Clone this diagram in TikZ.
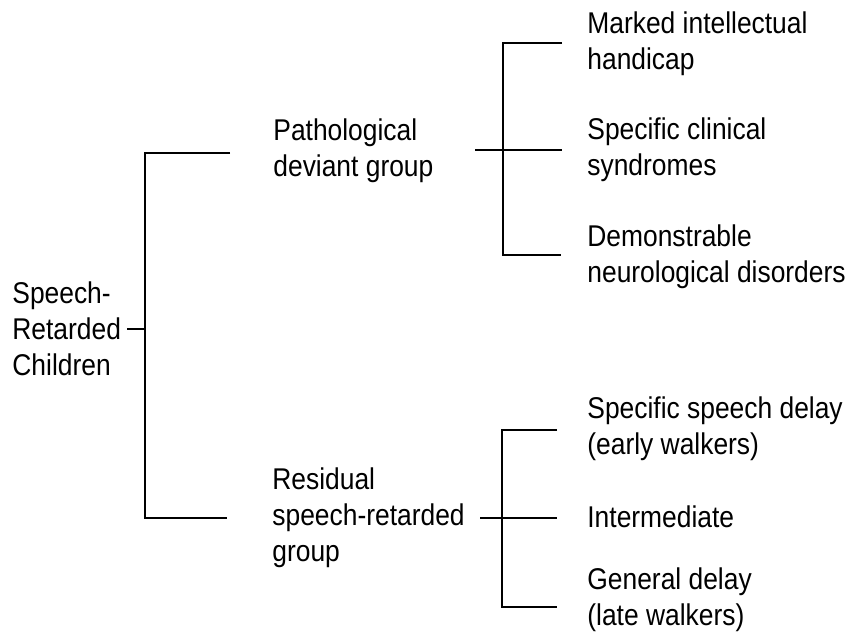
\documentclass[tikz,border=0pt]{standalone}
\usepackage{fontspec}
\setmainfont{Liberation Sans}[FakeStretch=0.88]
\begin{document}
\begin{tikzpicture}[x=0.5pt,y=-0.5pt,
  lbl/.style={anchor=west,inner sep=0pt,align=left,font=\fontsize{15pt}{18pt}\selectfont},
  brk/.style={line width=0.9pt,black}]
\useasboundingbox (0,0) rectangle (858,633);
% texts
\node[lbl] (root) at (12,329) {Speech-\\Retarded\\Children};
\node[lbl] (path) at (273,151) {Pathological\\deviant group};
\node[lbl] (resid) at (272,518) {Residual\\speech-retarded\\group};
\node[lbl] (m1) at (587,44) {Marked intellectual\\handicap};
\node[lbl] (m2) at (587,150) {Specific clinical\\syndromes};
\node[lbl] (m3) at (587,257) {Demonstrable\\neurological disorders};
\node[lbl] (s1) at (587,429) {Specific speech delay\\(early walkers)};
\node[lbl] (s2) at (587,517) {Intermediate};
\node[lbl] (s3) at (587,600) {General delay\\(late walkers)};
% junction coordinates
\coordinate (a0) at (127,329);
\coordinate (a1) at (145,329);
\coordinate (atop) at (145,153);
\coordinate (abot) at (145,518);
\coordinate (pend) at (230,153);
\coordinate (rend) at (227,518);
\coordinate (b0) at (475,150);
\coordinate (bmid) at (503,150);
\coordinate (btop) at (503,43);
\coordinate (bbot) at (503,255);
\coordinate (bt) at (562,43);
\coordinate (bm) at (562,150);
\coordinate (bb) at (561,255);
\coordinate (c0) at (480,518);
\coordinate (cmid) at (502,518);
\coordinate (ctop) at (502,430);
\coordinate (cbot) at (502,607);
\coordinate (ct) at (557,430);
\coordinate (cm) at (557,518);
\coordinate (cb) at (557,607);
% connectors
\draw[brk] (a0) -- (a1);
\draw[brk] (pend) -- (atop) -- (abot) -- (rend);
\draw[brk] (b0) -- (bm);
\draw[brk] (bt) -- (btop) -- (bbot) -- (bb);
\draw[brk] (c0) -- (cm);
\draw[brk] (ct) -- (ctop) -- (cbot) -- (cb);
\end{tikzpicture}
\end{document}
